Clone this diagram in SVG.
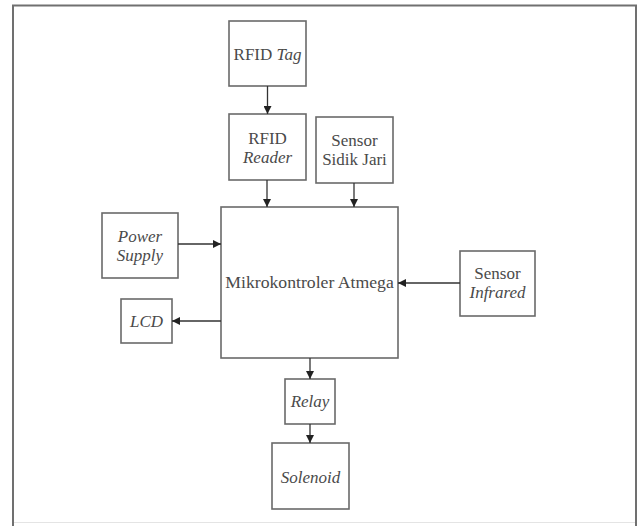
<svg xmlns="http://www.w3.org/2000/svg" width="639" height="526" viewBox="0 0 639 526">
<defs>
<style>
.box{fill:#fff;stroke:#6a6a6a;stroke-width:1.6}
.t{font-family:'Liberation Serif','Times New Roman',serif;font-size:17px;fill:#4a4a4a;text-anchor:middle}
.m{font-size:17.7px}
.i{font-style:italic}
.c{stroke:#333;stroke-width:1.3;fill:none;marker-end:url(#ah)}
</style>
<marker id="ah" viewBox="0 0 10 10" refX="10" refY="5" markerWidth="8" markerHeight="8" markerUnits="userSpaceOnUse" orient="auto">
<path d="M0,0 L10,5 L0,10 z" fill="#222"/>
</marker>
</defs>
<rect x="0" y="0" width="639" height="526" fill="#fff"/>
<g id="frame">
<path d="M13,526 V5.5 H636 V526" fill="none" stroke="#707070" stroke-width="2"/>
<path d="M14,522.5 H635" fill="none" stroke="#e4e4e4" stroke-width="1"/>
</g>
<g id="rfid-tag"><rect class="box" x="229" y="21" width="77" height="65"/><text class="t" x="267.5" y="60">RFID <tspan class="i">Tag</tspan></text></g>
<g id="rfid-reader"><rect class="box" x="229" y="114" width="77" height="66"/><text class="t" x="267.5" y="143.5">RFID</text><text class="t i" x="267.5" y="162.5">Reader</text></g>
<g id="sidik-jari"><rect class="box" x="316" y="117" width="77" height="66"/><text class="t" x="354.5" y="146">Sensor</text><text class="t" x="354.5" y="165">Sidik Jari</text></g>
<g id="mcu"><rect class="box" x="221" y="207" width="177" height="151"/><text class="t m" x="309.5" y="288">Mikrokontroler Atmega</text></g>
<g id="power-supply"><rect class="box" x="102" y="213" width="76" height="65"/><text class="t i" x="140" y="241.5">Power</text><text class="t i" x="140" y="260.5">Supply</text></g>
<g id="lcd"><rect class="box" x="121" y="299" width="51" height="44"/><text class="t i" x="146.5" y="327">LCD</text></g>
<g id="sensor-infrared"><rect class="box" x="460" y="251" width="75" height="65"/><text class="t" x="497.5" y="279">Sensor</text><text class="t i" x="497.5" y="298">Infrared</text></g>
<g id="relay"><rect class="box" x="285" y="379" width="50" height="45"/><text class="t i" x="310" y="407">Relay</text></g>
<g id="solenoid"><rect class="box" x="272" y="443" width="77" height="66"/><text class="t i" x="310.5" y="483">Solenoid</text></g>
<g id="connectors">
<line class="c" x1="267.5" y1="86" x2="267.5" y2="114"/>
<line class="c" x1="267" y1="180" x2="267" y2="207"/>
<line class="c" x1="354" y1="183" x2="354" y2="207"/>
<line class="c" x1="178" y1="244" x2="221" y2="244"/>
<line class="c" x1="221" y1="321" x2="172" y2="321"/>
<line class="c" x1="460" y1="283" x2="398" y2="283"/>
<line class="c" x1="310" y1="358" x2="310" y2="379"/>
<line class="c" x1="310" y1="424" x2="310" y2="443"/>
</g>
</svg>
